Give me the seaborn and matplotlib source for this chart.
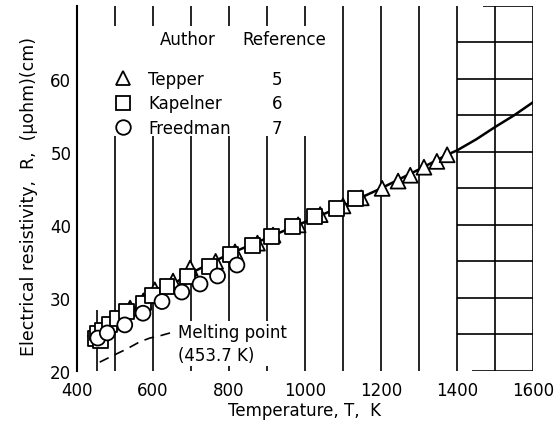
import numpy as np
import pandas as pd
import matplotlib
matplotlib.use("Agg")
import matplotlib.pyplot as plt
import matplotlib.patches as mpatches
from matplotlib.lines import Line2D
import seaborn as sns

# ---------------- data ----------------
tepper_T = [468, 492, 540, 575, 605, 653, 698, 765, 816, 875, 916, 982, 1040,
            1100, 1148, 1203, 1245, 1277, 1313, 1347, 1374]
tepper_R = [25.6, 26.7, 28.6, 29.6, 31.1, 32.3, 34.1, 35.0, 36.3, 37.5, 38.6,
            40.0, 41.4, 42.6, 43.7, 45.0, 46.0, 46.8, 47.9, 48.7, 49.6]

kapelner_T = [448, 455, 462, 468, 487, 508, 530, 575, 598, 637, 692, 750, 803,
              862, 913, 968, 1026, 1082, 1134]
kapelner_R = [24.5, 25.2, 24.2, 25.6, 26.3, 27.2, 28.1, 29.3, 30.3, 31.6, 32.9,
              34.3, 36.0, 37.2, 38.4, 39.8, 41.1, 42.2, 43.6]

freedman_T = [455, 480, 526, 574, 624, 676, 724, 770, 821]
freedman_R = [24.5, 25.2, 26.3, 27.9, 29.5, 30.8, 31.9, 33.0, 34.5]

curve_T = [453.7, 500, 600, 700, 800, 900, 1000, 1100, 1200, 1300, 1374, 1400,
           1450, 1500, 1550, 1600]
curve_R = [25.0, 26.8, 30.2, 33.4, 36.0, 38.2, 40.4, 42.6, 45.0, 47.6, 49.6,
           50.2, 51.7, 53.4, 55.0, 56.8]

leader_T = [460, 495, 531, 566, 592, 618, 645]
leader_R = [21.2, 22.1, 23.0, 24.0, 24.5, 24.8, 25.2]

authors = ["Tepper", "Kapelner", "Freedman"]
references = ["5", "6", "7"]
marker_map = {"Tepper": "^", "Kapelner": "s", "Freedman": "o"}

x_ticks = [400, 600, 800, 1000, 1200, 1400, 1600]
y_ticks = [20, 30, 40, 50, 60]
y_minor = [55, 60, 65]
grid_T = [500, 600, 700, 800, 900, 1000, 1100, 1200, 1300, 1400, 1500, 1600]
box_R = [25, 30, 35, 40, 45, 50, 55, 60, 65]
melting_T = 453.7

df = pd.concat([
    pd.DataFrame({"T": tepper_T, "R": tepper_R, "Author": "Tepper"}),
    pd.DataFrame({"T": kapelner_T, "R": kapelner_R, "Author": "Kapelner"}),
    pd.DataFrame({"T": freedman_T, "R": freedman_R, "Author": "Freedman"}),
])

# ---------------- style ----------------
sns.set_style("white")
plt.rcParams["font.family"] = ["DejaVu Sans"]
plt.rcParams["font.size"] = 12
for k in ["text.color", "axes.labelcolor", "xtick.color", "ytick.color"]:
    plt.rcParams[k] = "black"

fig = plt.figure(figsize=(5.57, 4.27), dpi=100)
ax = fig.add_axes([0.138, 0.129, 0.819, 0.855])
ax.set_xlim(400, 1600)
ax.set_ylim(20, 70)

# grid lines
ax.vlines(grid_T, 20, 70, color="black", lw=1.2, zorder=1)
ax.hlines(box_R, 1400, 1600, color="black", lw=1.2, zorder=1)
ax.hlines([70], 1468, 1600, color="black", lw=1.2, zorder=1)
ax.hlines([20], 1440, 1600, color="black", lw=1.2, zorder=1)

# melting point marker
ax.vlines([melting_T], 20, 28.3, color="black", lw=1.2, zorder=1)
ax.hlines([24.8], 426, 479, color="black", lw=1.2, zorder=1)
ax.plot(leader_T, leader_R, color="black", lw=1.2, ls=(0, (6, 4)), zorder=2)

# curve + data
sns.lineplot(x=curve_T, y=curve_R, color="black", lw=1.8, sort=True,
             estimator=None, ax=ax, zorder=2)
sns.scatterplot(data=df, x="T", y="R", style="Author", markers=marker_map,
                s=115, color="white", edgecolor="black", linewidth=1.3,
                legend=False, ax=ax, zorder=3)

# legend background
ax.add_patch(mpatches.Rectangle((0.05, 0.644), 0.516, 0.301,
                                transform=ax.transAxes, facecolor="white",
                                edgecolor="none", zorder=1.5))
ax.text(0.182, 0.91, "Author", transform=ax.transAxes, ha="left",
        va="center", fontsize=12, zorder=4)
ax.text(0.362, 0.91, "Reference", transform=ax.transAxes, ha="left",
        va="center", fontsize=12, zorder=4)

handles = [Line2D([], [], marker=marker_map[a], ls="none", mfc="white",
                  mec="black", ms=10.5, mew=1.3) for a in authors]
handles += [Line2D([], [], ls="none") for _ in references]
leg = ax.legend(handles, authors + references, ncol=2, loc="upper left",
                bbox_to_anchor=(0.083, 0.825), frameon=False, borderpad=0,
                handlelength=1.0, handletextpad=1.0, columnspacing=0.45,
                labelspacing=0.4, fontsize=12, borderaxespad=0)
leg.set_zorder(5)

# melting point text
ax.text(665, 26.5, "Melting point\n(453.7 K)", ha="left", va="top",
        fontsize=12, linespacing=1.3, zorder=4,
        bbox=dict(facecolor="white", edgecolor="none", pad=1.5))

# axes
for s in ["top", "right", "bottom"]:
    ax.spines[s].set_visible(False)
ax.spines["left"].set_linewidth(1.5)
ax.spines["left"].set_color("black")

ax.set_xticks(x_ticks)
ax.set_yticks(y_ticks)
ax.set_yticks(y_minor, minor=True)
ax.yaxis.remove_overlapping_locs = False
ax.tick_params(axis="x", length=0, pad=7, labelsize=12)
ax.tick_params(axis="y", which="major", length=0, pad=4, labelsize=12)
ax.tick_params(axis="y", which="minor", direction="in", length=11.5,
               width=1.2, color="black")

ax.set_xlabel("Temperature, T,  K", fontsize=12)
ax.set_ylabel("Electrical resistivity,  R,  (\u03bcohm)(cm)", fontsize=12.5)
ax.xaxis.set_label_coords(0.5, -0.082)
ax.yaxis.set_label_coords(-0.086, 0.48)

fig.savefig("out.png", dpi=100)
